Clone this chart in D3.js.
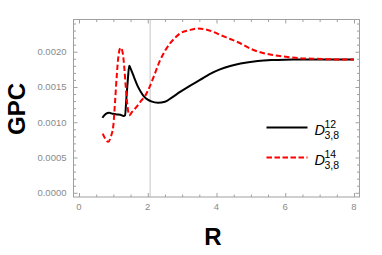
<!DOCTYPE html>
<html>
<head>
<meta charset="utf-8">
<script src="https://cdn.jsdelivr.net/npm/d3@7"></script>
<style>
  body { margin: 0; background: #fff; }
  text { font-family: "Liberation Sans", Arial, sans-serif; }
</style>
</head>
<body>
<svg id="chart" width="382" height="255"></svg>
<script>
// D_{3,8}^{12} (black solid)
var r12 = [0.68, 0.78, 0.88, 0.98, 1.1, 1.2, 1.3, 1.34, 1.38, 1.42, 1.46, 1.52, 1.6, 1.7, 1.8, 1.9, 2.0, 2.1, 2.3, 2.5, 2.7, 2.94, 3.2, 3.52, 3.8, 4.1, 4.4, 4.7, 5.2, 5.6, 6.0, 6.5, 7.0, 8.0];
var gpc12 = [0.001064, 0.00112, 0.001135, 0.00112, 0.00111, 0.001105, 0.00109, 0.0011, 0.00135, 0.0016, 0.0018, 0.00174, 0.00164, 0.00152, 0.00143, 0.00136, 0.00132, 0.001295, 0.001275, 0.00129, 0.00135, 0.00143, 0.00151, 0.0016, 0.001683, 0.00175, 0.001797, 0.001832, 0.001868, 0.001882, 0.001888, 0.00189, 0.00189, 0.00189];

// D_{3,8}^{14} (red dashed)
var r14 = [0.69, 0.76, 0.85, 0.93, 1.0, 1.05, 1.1, 1.15, 1.21, 1.27, 1.32, 1.36, 1.4, 1.46, 1.55, 1.68, 1.8, 1.92, 2.07, 2.2, 2.36, 2.5, 2.65, 2.8, 2.94, 3.2, 3.45, 3.7, 3.91, 4.1, 4.4, 4.69, 5.0, 5.22, 5.56, 5.9, 6.15, 6.5, 6.92, 7.5, 8.0];
var gpc14 = [0.00084, 0.00077, 0.000723, 0.0008, 0.00096, 0.0013, 0.00167, 0.00195, 0.002057, 0.00199, 0.00176, 0.0015, 0.00128, 0.0011, 0.00115, 0.00122, 0.0013, 0.00137, 0.00152, 0.00168, 0.00188, 0.00201, 0.00212, 0.0022, 0.00226, 0.002305, 0.00233, 0.002315, 0.00228, 0.00224, 0.00218, 0.00212, 0.00204, 0.002, 0.00196, 0.001935, 0.00192, 0.001905, 0.0019, 0.00189, 0.00189];

var xTicks = [0, 2, 4, 6, 8];
var yTicks = [0, 0.0005, 0.001, 0.0015, 0.002];
var markerR = 2.07;

var svg = d3.select("#chart");
var pLeft = 73.5, pRight = 359.5, pTop = 19.5, pBottom = 197;

var x = d3.scaleLinear().domain([-0.16, 8.16]).range([pLeft, pRight]);
var y = d3.scaleLinear().domain([-0.00006, 0.002457]).range([pBottom, pTop]);

var frameColor = "#a0a0a0";

// vertical marker line
svg.append("line")
    .attr("x1", x(markerR)).attr("x2", x(markerR))
    .attr("y1", pTop).attr("y2", pBottom)
    .attr("stroke", "#cfcfcf")
    .attr("stroke-width", 1.2);

// axes with inward ticks (major + minor), mirrored on top/right
function tickAxis(axisFn, scale, values, size, transform) {
    svg.append("g")
        .attr("transform", transform)
        .call(axisFn(scale).tickValues(values).tickSize(size).tickFormat(""))
        .call(function (g) {
            g.select(".domain").remove();
            g.selectAll("line").attr("stroke", frameColor);
        });
}

var xMinor = d3.range(0.5, 8.1, 0.5).filter(function (v) { return xTicks.indexOf(v) < 0; });
var yMinor = d3.range(1, 25)
    .filter(function (i) { return i % 5 !== 0; })
    .map(function (i) { return i * 0.0001; });

tickAxis(d3.axisTop, x, xTicks, 4, "translate(0," + pBottom + ")");
tickAxis(d3.axisTop, x, xMinor, 2.5, "translate(0," + pBottom + ")");
tickAxis(d3.axisBottom, x, xTicks, 4, "translate(0," + pTop + ")");
tickAxis(d3.axisBottom, x, xMinor, 2.5, "translate(0," + pTop + ")");
tickAxis(d3.axisRight, y, yTicks, 4, "translate(" + pLeft + ",0)");
tickAxis(d3.axisRight, y, yMinor, 2.5, "translate(" + pLeft + ",0)");
tickAxis(d3.axisLeft, y, yTicks, 4, "translate(" + pRight + ",0)");
tickAxis(d3.axisLeft, y, yMinor, 2.5, "translate(" + pRight + ",0)");

// frame
svg.append("rect")
    .attr("x", pLeft).attr("y", pTop)
    .attr("width", pRight - pLeft).attr("height", pBottom - pTop)
    .attr("fill", "none")
    .attr("stroke", frameColor)
    .attr("stroke-width", 1);

// tick labels
svg.append("g").selectAll("text")
    .data(xTicks).enter().append("text")
    .attr("x", function (d) { return x(d); })
    .attr("y", pBottom + 13)
    .attr("text-anchor", "middle")
    .attr("fill", "#8a8a8a")
    .style("font-size", "9.5px")
    .text(function (d) { return d; });

svg.append("g").selectAll("text")
    .data(yTicks).enter().append("text")
    .attr("x", pLeft - 7)
    .attr("y", function (d) { return y(d) + 3.3; })
    .attr("text-anchor", "end")
    .attr("fill", "#8a8a8a")
    .style("font-size", "9.5px")
    .text(function (d) { return d.toFixed(4); });

// axis titles
svg.append("text")
    .attr("x", 213).attr("y", 245)
    .attr("text-anchor", "middle")
    .style("font-size", "24px").style("font-weight", "bold")
    .text("R");

svg.append("text")
    .attr("transform", "translate(25," + 109 + ")rotate(-90)")
    .attr("text-anchor", "middle")
    .style("font-size", "24px").style("font-weight", "bold")
    .text("GPC");

// curves
var line = d3.line()
    .x(function (d) { return x(d[0]); })
    .y(function (d) { return y(d[1]); })
    .curve(d3.curveMonotoneX);

svg.append("path")
    .datum(d3.zip(r12, gpc12))
    .attr("d", line)
    .attr("fill", "none")
    .attr("stroke", "#000")
    .attr("stroke-width", 2);

svg.append("path")
    .datum(d3.zip(r14, gpc14))
    .attr("d", line)
    .attr("fill", "none")
    .attr("stroke", "#f00")
    .attr("stroke-width", 2)
    .attr("stroke-dasharray", "5.5,2.8");

// legend
var legend = [
    { sup: "12", color: "#000", dash: null, y: 127.5 },
    { sup: "14", color: "#f00", dash: "5.5,2.5", y: 157.5 }
];
legend.forEach(function (d) {
    svg.append("line")
        .attr("x1", 266.5).attr("x2", 307.5)
        .attr("y1", d.y).attr("y2", d.y)
        .attr("stroke", d.color)
        .attr("stroke-width", 2)
        .attr("stroke-dasharray", d.dash);
    var t = svg.append("text")
        .attr("x", 314.5).attr("y", d.y + 7.5);
    t.append("tspan")
        .style("font-size", "14.5px").style("font-style", "italic")
        .text("D");
    t.append("tspan")
        .attr("x", 324.5).attr("y", d.y + 0.5)
        .style("font-size", "10.5px")
        .text(d.sup);
    t.append("tspan")
        .attr("x", 324.5).attr("y", d.y + 11)
        .style("font-size", "10.5px")
        .text("3,8");
});
</script>
</body>
</html>
